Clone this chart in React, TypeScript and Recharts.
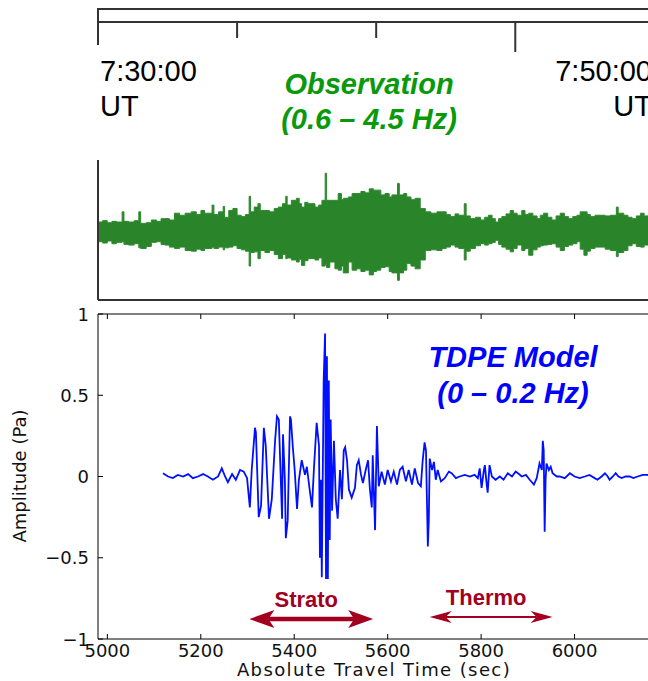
import React from 'react';
import { ComposedChart, Area, Line, XAxis, YAxis, ReferenceLine } from 'recharts';

// top panel: observation, seconds after 7:30:00 UT, envelope of the 0.6-4.5 Hz trace
const obsTime = [
  0, 10, 20, 30, 40, 52, 56, 66, 78, 88, 92, 104, 115, 126, 136, 144, 154, 165, 176, 188,
  201, 212, 222, 230, 246, 250, 260, 270, 273, 282, 291, 300, 309, 318, 326, 329, 337, 345, 350, 360,
  370, 380, 389, 398, 405, 408, 417, 428, 434, 439, 446, 453, 468, 476, 483, 490, 493, 500, 511, 518,
  525, 529, 540, 548, 558, 567, 576, 585, 594, 601, 610, 619, 628, 634, 646, 650, 659, 666, 675, 684,
  695, 706, 718, 731, 742, 751, 760, 770, 778, 790, 794, 803, 814, 825, 834, 842, 850, 857, 864, 871,
  880, 889, 896, 904, 914, 921, 929, 938, 947, 954, 961, 970, 979, 988, 997, 1006, 1015, 1024, 1033, 1040,
  1048, 1055, 1062, 1072, 1083, 1094, 1105, 1118, 1122, 1134, 1143, 1152, 1161, 1170, 1178, 1187, 1200, 1220,
];
const obsHigh = [
  0.15, 0.17, 0.14, 0.16, 0.15, 0.30, 0.16, 0.15, 0.17, 0.30, 0.13, 0.14, 0.18, 0.16, 0.20, 0.20, 0.18, 0.28, 0.25, 0.28,
  0.30, 0.26, 0.32, 0.28, 0.40, 0.26, 0.30, 0.38, 0.22, 0.32, 0.35, 0.25, 0.23, 0.26, 0.53, 0.30, 0.37, 0.42, 0.32, 0.32,
  0.30, 0.35, 0.37, 0.42, 0.53, 0.40, 0.47, 0.50, 0.42, 0.37, 0.44, 0.42, 0.37, 0.40, 0.47, 0.87, 0.47, 0.47, 0.47, 0.57,
  0.48, 0.50, 0.52, 0.57, 0.57, 0.60, 0.58, 0.64, 0.62, 0.62, 0.55, 0.57, 0.52, 0.55, 0.72, 0.55, 0.57, 0.52, 0.48, 0.50,
  0.35, 0.30, 0.28, 0.30, 0.30, 0.26, 0.23, 0.27, 0.25, 0.42, 0.24, 0.20, 0.22, 0.18, 0.22, 0.25, 0.20, 0.15, 0.20, 0.23,
  0.27, 0.32, 0.28, 0.25, 0.32, 0.26, 0.28, 0.24, 0.20, 0.25, 0.28, 0.22, 0.18, 0.24, 0.28, 0.23, 0.20, 0.23, 0.25, 0.30,
  0.30, 0.26, 0.23, 0.25, 0.25, 0.24, 0.25, 0.37, 0.28, 0.25, 0.22, 0.20, 0.24, 0.28, 0.24, 0.25, 0.22, 0.24,
];
const obsLow = [
  -0.14, -0.16, -0.13, -0.17, -0.15, -0.14, -0.18, -0.19, -0.17, -0.23, -0.24, -0.21, -0.15, -0.14, -0.18, -0.19, -0.22, -0.24, -0.22, -0.27,
  -0.28, -0.25, -0.27, -0.24, -0.22, -0.24, -0.22, -0.26, -0.23, -0.22, -0.20, -0.24, -0.26, -0.28, -0.50, -0.30, -0.29, -0.39, -0.27, -0.30,
  -0.27, -0.33, -0.39, -0.33, -0.39, -0.38, -0.41, -0.44, -0.40, -0.49, -0.42, -0.39, -0.41, -0.38, -0.50, -0.48, -0.52, -0.44, -0.54, -0.56,
  -0.50, -0.60, -0.44, -0.56, -0.54, -0.58, -0.56, -0.63, -0.58, -0.56, -0.52, -0.51, -0.58, -0.60, -0.71, -0.60, -0.56, -0.46, -0.50, -0.54,
  -0.41, -0.27, -0.26, -0.27, -0.24, -0.22, -0.19, -0.22, -0.24, -0.41, -0.28, -0.24, -0.20, -0.17, -0.19, -0.17, -0.15, -0.12, -0.18, -0.22,
  -0.25, -0.29, -0.24, -0.19, -0.27, -0.24, -0.34, -0.26, -0.22, -0.20, -0.19, -0.18, -0.17, -0.22, -0.27, -0.21, -0.19, -0.17, -0.14, -0.25,
  -0.34, -0.28, -0.24, -0.22, -0.22, -0.25, -0.27, -0.36, -0.30, -0.27, -0.20, -0.17, -0.21, -0.22, -0.19, -0.19, -0.18, -0.20,
];

const timeTicks = [0, 300, 600, 900, 1200];
const clockLabels = ['7:30:00', '7:50:00'];

// bottom panel: TDPE model, 0-0.2 Hz
const tdpeTime = [
  5119, 5130, 5140, 5151, 5162, 5173, 5183, 5194, 5205, 5215, 5226, 5237, 5245, 5252, 5258, 5267, 5275, 5284, 5292, 5299,
  5305, 5309, 5316, 5318, 5324, 5329, 5335, 5339, 5346, 5352, 5359, 5363, 5367, 5374, 5376, 5380, 5382, 5386, 5391, 5393,
  5397, 5401, 5406, 5410, 5416, 5423, 5427, 5433, 5438, 5442, 5448, 5453, 5455, 5457, 5459, 5463, 5466, 5468, 5470, 5472,
  5474, 5476, 5478, 5481, 5485, 5489, 5493, 5498, 5502, 5506, 5509, 5513, 5517, 5523, 5530, 5534, 5538, 5543, 5547, 5553,
  5558, 5562, 5566, 5568, 5573, 5577, 5581, 5587, 5594, 5600, 5607, 5613, 5620, 5626, 5632, 5639, 5645, 5652, 5658, 5665,
  5671, 5675, 5679, 5682, 5684, 5686, 5688, 5690, 5695, 5699, 5703, 5707, 5714, 5722, 5731, 5737, 5746, 5754, 5765, 5776,
  5786, 5793, 5797, 5801, 5806, 5808, 5812, 5814, 5818, 5823, 5831, 5840, 5848, 5857, 5866, 5874, 5881, 5887, 5896, 5904,
  5913, 5919, 5925, 5930, 5932, 5934, 5936, 5938, 5940, 5945, 5949, 5953, 5962, 5968, 5979, 5990, 6000, 6011, 6022, 6032,
  6043, 6049, 6058, 6065, 6071, 6075, 6082, 6088, 6094, 6101, 6109, 6118, 6126, 6135, 6146, 6156, 6170,
];
const tdpeAmp = [
  0.02, 0.0, -0.01, 0.01, 0.0, 0.015, -0.01, 0.0, 0.015, 0.0, -0.02, 0.0, 0.05, 0.0, -0.035, 0.015, -0.02, 0.04, 0.03, -0.01,
  -0.19, 0.04, 0.3, 0.27, -0.25, -0.18, 0.3, 0.19, -0.26, -0.14, 0.22, 0.37, 0.35, -0.26, 0.26, -0.02, -0.38, -0.27, 0.37, 0.35,
  0.18, 0.04, -0.2, -0.02, 0.1, 0.01, 0.06, -0.08, -0.19, 0.04, 0.33, 0.19, -0.5, -0.02, -0.62, 0.59, 0.88, -0.63, 0.74, -0.63,
  0.59, -0.39, 0.35, -0.21, 0.22, -0.14, -0.26, 0.04, -0.14, 0.16, 0.18, 0.1, -0.08, -0.13, -0.07, 0.07, 0.1, 0.01, -0.04, 0.04,
  0.1, -0.08, -0.19, 0.13, -0.33, 0.31, -0.06, 0.03, -0.05, 0.04, -0.03, 0.03, -0.05, 0.04, 0.06, -0.03, 0.04, -0.05, 0.05, -0.04,
  -0.06, 0.1, 0.21, 0.16, -0.14, -0.43, -0.27, 0.11, 0.04, 0.09, -0.02, 0.04, -0.03, -0.01, 0.03, 0.02, -0.01, 0.0, 0.01, 0.0,
  0.01, -0.01, 0.05, -0.07, 0.04, 0.07, -0.05, -0.1, 0.07, 0.0, -0.02, 0.0, -0.02, 0.02, 0.0, 0.03, 0.015, 0.0, 0.01, -0.02,
  -0.05, -0.01, 0.08, 0.04, 0.22, 0.16, -0.34, -0.02, 0.08, 0.04, 0.06, 0.02, 0.0, 0.0, -0.01, 0.02, 0.0, -0.01, 0.0, 0.01,
  -0.01, -0.02, 0.0, 0.02, 0.0, -0.02, 0.0, 0.02, 0.0, -0.01, 0.0, 0.0, -0.01, 0.0, 0.01, 0.01, 0.0,
];

const travelTicks = [5000, 5200, 5400, 5600, 5800, 6000];
const ampTicks = [-1, -0.5, 0, 0.5, 1];

// arrival windows marked under the trace
const phaseNames = ['Strato', 'Thermo'];
const phaseFrom = [5304, 5690];
const phaseTo = [5569, 5953];
const phaseLevel = [-0.877, -0.865];

const obsData = obsTime.map((t, i) => ({ t, band: [obsLow[i], obsHigh[i]] }));
const tdpeData = tdpeTime.map((t, i) => ({ t, amp: tdpeAmp[i] }));

const sans = '"Liberation Sans", Arial, sans-serif';
const axisFont = '"DejaVu Sans", sans-serif';
const red = '#a3001f';

const timeTickLen = [23, 16, 16, 30, 30];
function TimeTick({ x, y, index }: any) {
  return <line x1={x} y1={y} x2={x} y2={y + (timeTickLen[index] ?? 16)} stroke="#333" strokeWidth={2} />;
}

const fmt = (v: number) => (v < 0 ? `\u2212${Math.abs(v)}` : String(v));

function TravelTick({ x, y, payload }: any) {
  return (
    <g>
      <line x1={x} y1={y} x2={x} y2={y - 5} stroke="#000" />
      <text x={x} y={y + 18} textAnchor="middle" fontFamily={axisFont} fontSize={18} fill="#111">
        {payload.value}
      </text>
    </g>
  );
}

function TopTick({ x, y }: any) {
  return <line x1={x} y1={y} x2={x} y2={y + 5} stroke="#000" />;
}

function AmpTick({ x, y, payload }: any) {
  return (
    <g>
      <line x1={x} y1={y} x2={x + 5} y2={y} stroke="#000" />
      <text x={x - 9} y={y + 6.5} textAnchor="end" fontFamily={axisFont} fontSize={18} fill="#111">
        {fmt(payload.value)}
      </text>
    </g>
  );
}

function PhaseArrow(props: any) {
  const { x1, y1, x2, name, heavy } = props;
  const y = y1;
  const hl = heavy ? 25 : 22;
  const hh = heavy ? 9 : 6;
  return (
    <g>
      <line x1={x1 + hl - 6} y1={y} x2={x2 - hl + 6} y2={y} stroke={red} strokeWidth={heavy ? 4.5 : 2} />
      <path d={`M${x1},${y} L${x1 + hl},${y - hh} L${x1 + hl - 6},${y} L${x1 + hl},${y + hh} Z`} fill={red} />
      <path d={`M${x2},${y} L${x2 - hl},${y - hh} L${x2 - hl + 6},${y} L${x2 - hl},${y + hh} Z`} fill={red} />
      <text x={(x1 + x2) / 2 - 5} y={y - 12} textAnchor="middle" fontFamily={sans} fontWeight="bold" fontSize={22} fill={red}>
        {name}
      </text>
    </g>
  );
}

export default function App() {
  return (
    <div style={{ position: 'fixed', left: 0, top: 0, width: 648, height: 681, overflow: 'hidden', background: '#fff' }}>
      {/* upper frame edge */}
      <div style={{ position: 'absolute', left: 97, top: 8, width: 600, height: 13, borderTop: '2px solid #333', borderLeft: '2px solid #333' }} />

      <div style={{ position: 'absolute', left: 0, top: 0 }}>
        <ComposedChart width={720} height={310} data={obsData} margin={{ top: 21, right: 10, bottom: 9, left: 97 }}>
          <XAxis
            xAxisId="time"
            dataKey="t"
            type="number"
            orientation="top"
            domain={[0, 1320]}
            ticks={timeTicks}
            interval={0}
            height={1}
            tickSize={0}
            tickMargin={0}
            tickLine={false}
            tick={<TimeTick />}
            axisLine={{ stroke: '#333', strokeWidth: 2 }}
            allowDataOverflow
          />
          <XAxis
            xAxisId="base"
            dataKey="t"
            type="number"
            domain={[0, 1320]}
            height={1}
            tick={false}
            tickLine={false}
            axisLine={{ stroke: '#333', strokeWidth: 2 }}
          />
          <YAxis domain={[-1, 3.1]} width={1} tick={false} tickLine={false} axisLine={{ stroke: '#333', strokeWidth: 2 }} />
          <Area
            xAxisId="time"
            dataKey="band"
            type="stepAfter"
            stroke="#2f8a2f"
            strokeWidth={1}
            fill="#2a842a"
            fillOpacity={1}
            isAnimationActive={false}
          />
        </ComposedChart>
      </div>

      <div style={{ position: 'absolute', left: 0, top: 0 }}>
        <ComposedChart width={680} height={681} data={tdpeData} margin={{ top: 314, right: 12, bottom: 12, left: 38 }}>
          <XAxis
            dataKey="t"
            type="number"
            domain={[4980, 6200]}
            ticks={travelTicks}
            interval={0}
            height={30}
            tickSize={0}
            tickMargin={0}
            tickLine={false}
            tick={<TravelTick />}
            axisLine={{ stroke: '#000' }}
            allowDataOverflow
          />
          <XAxis
            xAxisId="top"
            dataKey="t"
            type="number"
            orientation="top"
            mirror
            domain={[4980, 6200]}
            ticks={travelTicks}
            interval={0}
            height={1}
            tickSize={0}
            tickMargin={0}
            tickLine={false}
            tick={<TopTick />}
            axisLine={{ stroke: '#000' }}
            allowDataOverflow
          />
          <YAxis
            domain={[-1, 1]}
            ticks={ampTicks}
            interval={0}
            width={60}
            tickSize={0}
            tickMargin={0}
            tickLine={false}
            tick={<AmpTick />}
            axisLine={{ stroke: '#000' }}
          />
          <Line dataKey="amp" type="linear" stroke="#0010ff" strokeWidth={1.8} dot={false} isAnimationActive={false} />
          {phaseNames.map((name, i) => (
            <ReferenceLine
              key={name}
              segment={[
                { x: phaseFrom[i], y: phaseLevel[i] },
                { x: phaseTo[i], y: phaseLevel[i] },
              ]}
              shape={(p: any) => <PhaseArrow {...p} name={name} heavy={i === 0} />}
            />
          ))}
        </ComposedChart>
      </div>

      {/* clock labels over the upper frame */}
      <div style={{ position: 'absolute', left: 96, top: 45, width: 112, height: 115, background: '#fff' }} />
      <div style={{ position: 'absolute', left: 100, top: 54, font: `29px ${sans}`, lineHeight: '35px', color: '#000' }}>
        {clockLabels[0]}
        <br />
        UT
      </div>
      <div style={{ position: 'absolute', left: 500, top: 54, width: 152, textAlign: 'right', font: `29px ${sans}`, lineHeight: '35px', color: '#000' }}>
        {clockLabels[1]}
        <br />
        UT
      </div>

      <div style={{ position: 'absolute', left: 219, top: 67, width: 300, textAlign: 'center', font: `italic bold 29px ${sans}`, lineHeight: '35px', color: '#0a990a' }}>
        Observation
        <br />
        (0.6 – 4.5 Hz)
      </div>
      <div style={{ position: 'absolute', left: 363, top: 339, width: 300, textAlign: 'center', font: `italic bold 29px ${sans}`, lineHeight: '36px', color: '#0000ff' }}>
        TDPE Model
        <br />
        (0 – 0.2 Hz)
      </div>

      <div style={{ position: 'absolute', left: 174, top: 661, width: 400, textAlign: 'center', font: `18px ${axisFont}`, letterSpacing: '1.4px', lineHeight: '18px', color: '#111' }}>
        Absolute Travel Time (sec)
      </div>
      <div
        style={{
          position: 'absolute',
          left: 20,
          top: 476,
          transform: 'translate(-50%, -50%) rotate(-90deg)',
          whiteSpace: 'nowrap',
          font: `18px ${axisFont}`,
          lineHeight: '22px',
          color: '#111',
        }}
      >
        Amplitude (Pa)
      </div>
    </div>
  );
}
